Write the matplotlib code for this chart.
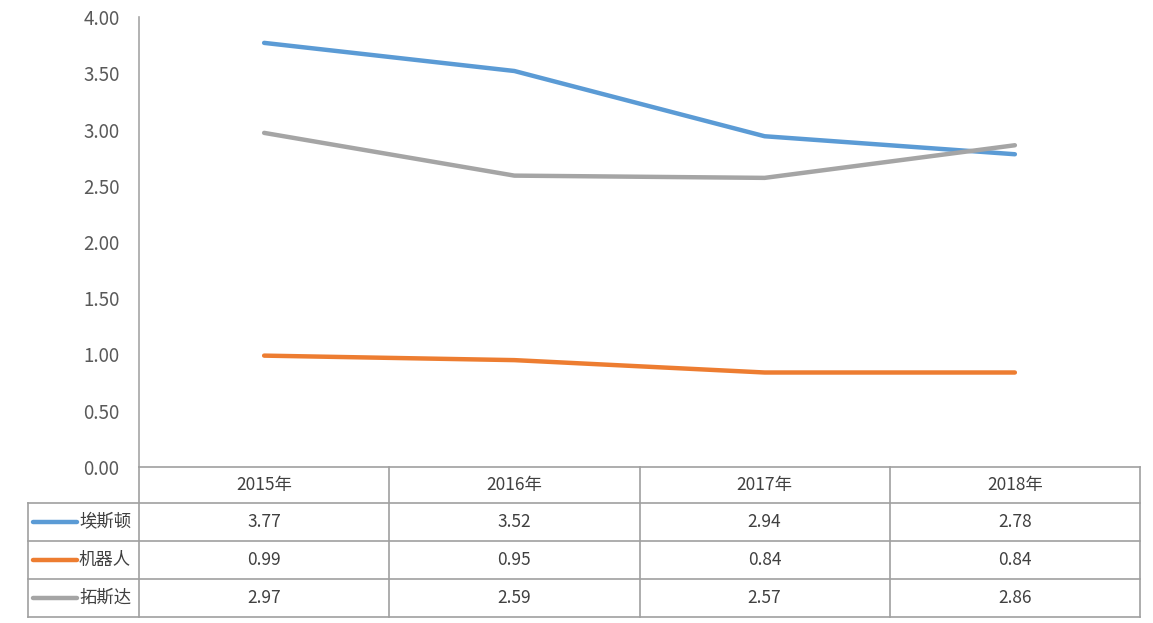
import matplotlib.pyplot as plt

plt.rcParams['font.family'] = ['Noto Sans CJK SC', 'DejaVu Sans']

years = ["2015年", "2016年", "2017年", "2018年"]
names = ["埃斯顿", "机器人", "拓斯达"]
aisidun = [3.77, 3.52, 2.94, 2.78]
jiqiren = [0.99, 0.95, 0.84, 0.84]
tuosida = [2.97, 2.59, 2.57, 2.86]
series = [aisidun, jiqiren, tuosida]
colors = ["#5B9BD5", "#ED7D31", "#A5A5A5"]

W, H = 1153, 623
fig = plt.figure(figsize=(W / 100, H / 100), dpi=100)

# main plot area (pixel coords from reference)
x0, x1, ytop, ybot = 139, 1140, 17, 467
ax = fig.add_axes([x0 / W, 1 - ybot / H, (x1 - x0) / W, (ybot - ytop) / H])
xs = [i + 0.5 for i in range(len(years))]
for vals, c in zip(series, colors):
    ax.plot(xs, vals, color=c, lw=3.2, solid_capstyle="round")
ax.set_xlim(0, len(years))
ax.set_ylim(0, 4)
ax.set_yticks([i * 0.5 for i in range(9)])
ax.set_yticklabels([f"{i * 0.5:.2f}" for i in range(9)], fontsize=13.5, color="#595959")
ax.tick_params(axis="y", length=0, pad=14)
ax.set_xticks([])
for s in ["top", "right", "bottom"]:
    ax.spines[s].set_visible(False)
ax.spines["left"].set_color("#A6A6A6")
ax.spines["left"].set_linewidth(1.2)

# data table below the plot
tl = 28
row_y = [467, 503, 541, 579, 617]
cw = (x1 - x0) / len(years)
tax = fig.add_axes([0, 0, 1, 1])
tax.set_xlim(0, W)
tax.set_ylim(H, 0)
tax.axis("off")
lc = "#A0A0A0"
tax.plot([x0, x1], [row_y[0]] * 2, color=lc, lw=1.2)
for y in row_y[1:]:
    tax.plot([tl, x1], [y, y], color=lc, lw=1.2)
tax.plot([tl, tl], [row_y[1], row_y[-1]], color=lc, lw=1.2)
for j in range(len(years) + 1):
    x = x0 + j * cw
    tax.plot([x, x], [row_y[0], row_y[-1]], color=lc, lw=1.2)

fs = 12.5
for j, yr in enumerate(years):
    tax.text(x0 + (j + 0.5) * cw, (row_y[0] + row_y[1]) / 2, yr,
             ha="center", va="center", fontsize=fs, color="#404040")
for i, (nm, vals, c) in enumerate(zip(names, series, colors)):
    yc = (row_y[i + 1] + row_y[i + 2]) / 2
    tax.plot([33, 77], [yc, yc], color=c, lw=3.2, solid_capstyle="round")
    tax.text(79, yc, nm, ha="left", va="center", fontsize=fs, color="#404040")
    for j, v in enumerate(vals):
        tax.text(x0 + (j + 0.5) * cw, yc, f"{v:.2f}",
                 ha="center", va="center", fontsize=fs, color="#404040")

fig.savefig("out.png", dpi=100)
